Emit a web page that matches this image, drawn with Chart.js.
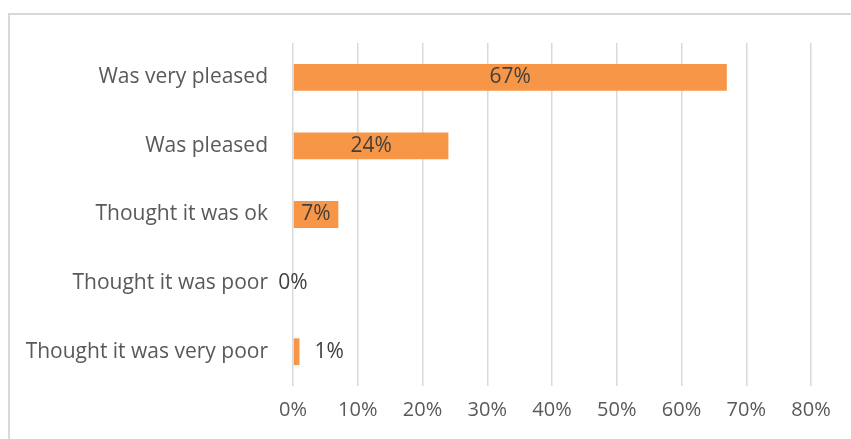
<!DOCTYPE html>
<html>
<head>
<meta charset="utf-8">
<script src="https://cdn.jsdelivr.net/npm/chart.js@4.4.1/dist/chart.umd.min.js"></script>
<style>
  html, body { margin: 0; padding: 0; background: #ffffff; }
  #wrap { position: relative; width: 851px; height: 439px; overflow: hidden; background: #fff; }
  #frame { position: absolute; left: 8px; top: 13px; width: 900px; height: 500px; border: 2px solid #d9d9d9; box-sizing: border-box; }
  #c { position: absolute; left: 0; top: 0; }
</style>
</head>
<body>
<div id="wrap">
  <div id="frame"></div>
  <canvas id="c" width="851" height="439"></canvas>
</div>
<script>
const categories = ["Was very pleased", "Was pleased", "Thought it was ok", "Thought it was poor", "Thought it was very poor"];
const values = [67, 24, 7, 0, 1];
const tickValues = [0, 10, 20, 30, 40, 50, 60, 70, 80];

const FONT = "'Open Sans', 'Noto Sans', sans-serif";

const barLabels = {
  id: 'barLabels',
  afterDatasetsDraw(chart) {
    const ctx = chart.ctx;
    const meta = chart.getDatasetMeta(0);
    ctx.save();
    ctx.font = "21px " + FONT;
    ctx.fillStyle = '#404040';
    ctx.textBaseline = 'middle';
    meta.data.forEach((bar, i) => {
      const v = values[i];
      const txt = v + '%';
      const w = ctx.measureText(txt).width;
      const barW = bar.x - bar.base;
      if (v === 0 || w + 4 < barW) {
        ctx.textAlign = 'center';
        ctx.fillText(txt, (bar.x + bar.base) / 2, bar.y);
      } else {
        ctx.textAlign = 'left';
        ctx.fillText(txt, bar.x + 15, bar.y);
      }
    });
    ctx.restore();
  }
};

new Chart(document.getElementById('c'), {
  type: 'bar',
  data: {
    labels: categories,
    datasets: [{
      data: values,
      backgroundColor: '#F79646',
      borderWidth: 0,
      barPercentage: 0.39,
      categoryPercentage: 1.0
    }]
  },
  options: {
    indexAxis: 'y',
    responsive: false,
    animation: false,
    devicePixelRatio: 1,
    layout: { padding: { left: 0, right: 40, top: 43, bottom: 0 } },
    plugins: {
      legend: { display: false },
      tooltip: { enabled: false },
      title: { display: false }
    },
    scales: {
      x: {
        min: 0,
        max: 80,
        afterBuildTicks(scale) { scale.ticks = tickValues.map(v => ({ value: v })); },
        afterFit(scale) { scale.height = 53; },
        grid: { color: '#d9d9d9', lineWidth: 1.5, drawTicks: false },
        border: { display: false },
        ticks: {
          padding: 12,
          color: '#595959',
          font: { family: FONT, size: 20 },
          callback: v => v + '%',
          maxRotation: 0
        }
      },
      y: {
        afterFit(scale) { scale.width = 293; },
        grid: { display: false, drawTicks: false },
        border: { display: false },
        ticks: {
          padding: 25,
          color: '#595959',
          font: { family: FONT, size: 21 }
        }
      }
    }
  },
  plugins: [barLabels]
});
</script>
</body>
</html>
